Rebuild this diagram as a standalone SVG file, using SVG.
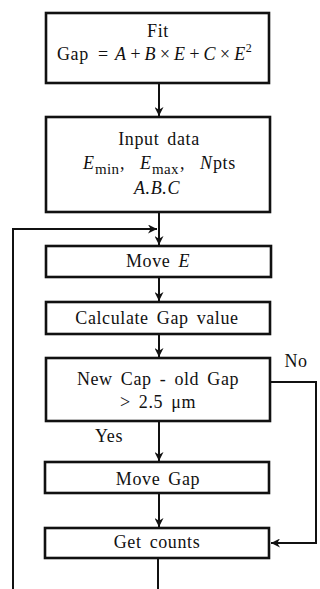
<svg xmlns="http://www.w3.org/2000/svg" width="320" height="589" viewBox="0 0 320 589">
<defs>
<marker id="ah" viewBox="0 0 10 10" refX="10" refY="5" markerWidth="9" markerHeight="9" markerUnits="userSpaceOnUse" orient="auto">
<path d="M0,0 L10,5 L0,10 L3,5 Z" fill="#111"/>
</marker>
<style>
.box{fill:#fff;stroke:#111;stroke-width:2.6}
.t{font-family:"Liberation Serif","Times New Roman",serif;font-size:18px;fill:#111;text-anchor:middle;word-spacing:3px;letter-spacing:0.6px}
.s{text-anchor:start}
.i{font-style:italic}
.line{fill:none;stroke:#111;stroke-width:2}
</style>
</defs>
<rect width="320" height="589" fill="#fff"/>
<g id="connectors">
<line class="line" x1="159" y1="83" x2="159" y2="116" marker-end="url(#ah)"/>
<line class="line" x1="159" y1="212" x2="159" y2="245" marker-end="url(#ah)"/>
<polyline class="line" points="13,589 13,229 157,229" marker-end="url(#ah)"/>
<line class="line" x1="159" y1="277" x2="159" y2="301" marker-end="url(#ah)"/>
<line class="line" x1="159" y1="334" x2="159" y2="357" marker-end="url(#ah)"/>
<line class="line" x1="159" y1="421" x2="159" y2="461" marker-end="url(#ah)"/>
<line class="line" x1="159" y1="493" x2="159" y2="527" marker-end="url(#ah)"/>
<polyline class="line" points="270,382 316,382 316,543 271,543" marker-end="url(#ah)"/>
<line class="line" x1="158" y1="558" x2="158" y2="589"/>
<text class="t" x="109" y="442">Yes</text>
<text class="t" x="296" y="367">No</text>
</g>
<g id="fit">
<rect class="box" x="46" y="13" width="223" height="70"/>
<text class="t" x="158" y="37">Fit</text>
<text class="t s" y="60"><tspan x="57">Gap</tspan><tspan x="98">=</tspan><tspan x="115" class="i" letter-spacing="3.2">A+B×E+C×</tspan><tspan class="i" letter-spacing="0.6">E</tspan><tspan dy="-8" font-size="12" letter-spacing="0">2</tspan></text>
</g>
<g id="input">
<rect class="box" x="46" y="117" width="224" height="95"/>
<text class="t" x="159" y="145">Input data</text>
<text class="t s" y="169"><tspan x="83" class="i">E</tspan><tspan x="95" dy="5" font-size="15" letter-spacing="0.3">min</tspan><tspan x="120" dy="-5">,</tspan><tspan x="140" class="i">E</tspan><tspan x="152" dy="5" font-size="15" letter-spacing="0.3">max</tspan><tspan x="180" dy="-5">,</tspan><tspan x="200" class="i">N</tspan><tspan x="213">pts</tspan></text>
<text class="t i" x="157" y="194" letter-spacing="2">A.B.C</text>
</g>
<g id="moveE">
<rect class="box" x="46" y="246" width="225" height="31"/>
<text class="t" x="158" y="267">Move <tspan class="i">E</tspan></text>
</g>
<g id="calc">
<rect class="box" x="46" y="302" width="224" height="32"/>
<text class="t" x="157" y="324">Calculate Gap value</text>
</g>
<g id="decision">
<rect class="box" x="46" y="358" width="224" height="63"/>
<text class="t" x="158" y="385">New Cap - old Gap</text>
<text class="t" x="158" y="408" word-spacing="6">&gt; 2.5 μm</text>
</g>
<g id="moveGap">
<rect class="box" x="45" y="462" width="224" height="31"/>
<text class="t" x="158" y="485">Move Gap</text>
</g>
<g id="counts">
<rect class="box" x="45" y="528" width="224" height="30"/>
<text class="t" x="157" y="548">Get counts</text>
</g>
</svg>
